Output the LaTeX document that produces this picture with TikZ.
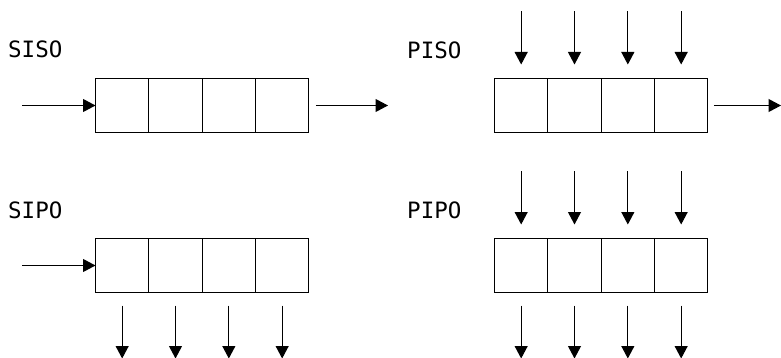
\documentclass[tikz,border=0pt]{standalone}
\usepackage{fontspec}
\newfontfamily\lbfont{DejaVu Sans Mono}
\usetikzlibrary{arrows.meta,calc}
\begin{document}
\begin{tikzpicture}[x=1pt,y=-1pt,
  cell/.style={draw,line width=1pt,minimum width=53.33pt,minimum height=54pt,inner sep=0pt,outer sep=0pt},
  arr/.style={line width=1pt,-{Triangle[length=12.5pt,width=13pt]}},
  lbl/.style={font=\lbfont\fontsize{22.5}{26}\selectfont,anchor=base west,inner sep=0pt}]
\useasboundingbox (0,0) rectangle (781,358);
% labels
\node[lbl] (lsiso) at (8,58) {SISO};
\node[lbl] (lpiso) at (407,58.5) {PISO};
\node[lbl] (lsipo) at (8,218.5) {SIPO};
\node[lbl] (lpipo) at (407,218.5) {PIPO};
% registers
\foreach \r/\x/\y in {s/95.5/105.5, p/494.5/105.5, q/95.5/265.5, m/494.5/265.5}{
  \foreach \i in {1,...,4}{
    \node[cell] (\r\i) at ({\x+53.333*\i-26.667},\y) {};
  }
}
% SISO
\coordinate (sin) at (22,105.5);
\coordinate (sout) at (388,105.5);
\draw[arr] (sin) -- (s1.west);
\draw[arr,shorten <=7pt] (s4.east) -- (sout);
% PISO
\coordinate (pout) at (781,105.5);
\draw[arr,shorten <=6pt] (p4.east) -- (pout);
\foreach \i in {1,...,4}{
  \coordinate (pt\i) at ($(p\i.north)+(0,-67)$);
  \draw[arr,shorten >=14pt] (pt\i) -- (p\i.north);
}
% SIPO
\coordinate (qin) at (22,265.5);
\draw[arr] (qin) -- (q1.west);
\foreach \i in {1,...,4}{
  \coordinate (qb\i) at ($(q\i.south)+(0,66)$);
  \draw[arr,shorten <=13pt] (q\i.south) -- (qb\i);
}
% PIPO
\foreach \i in {1,...,4}{
  \coordinate (mt\i) at ($(m\i.north)+(0,-67)$);
  \draw[arr,shorten >=14pt] (mt\i) -- (m\i.north);
  \coordinate (mb\i) at ($(m\i.south)+(0,66)$);
  \draw[arr,shorten <=13pt] (m\i.south) -- (mb\i);
}
\end{tikzpicture}
\end{document}
